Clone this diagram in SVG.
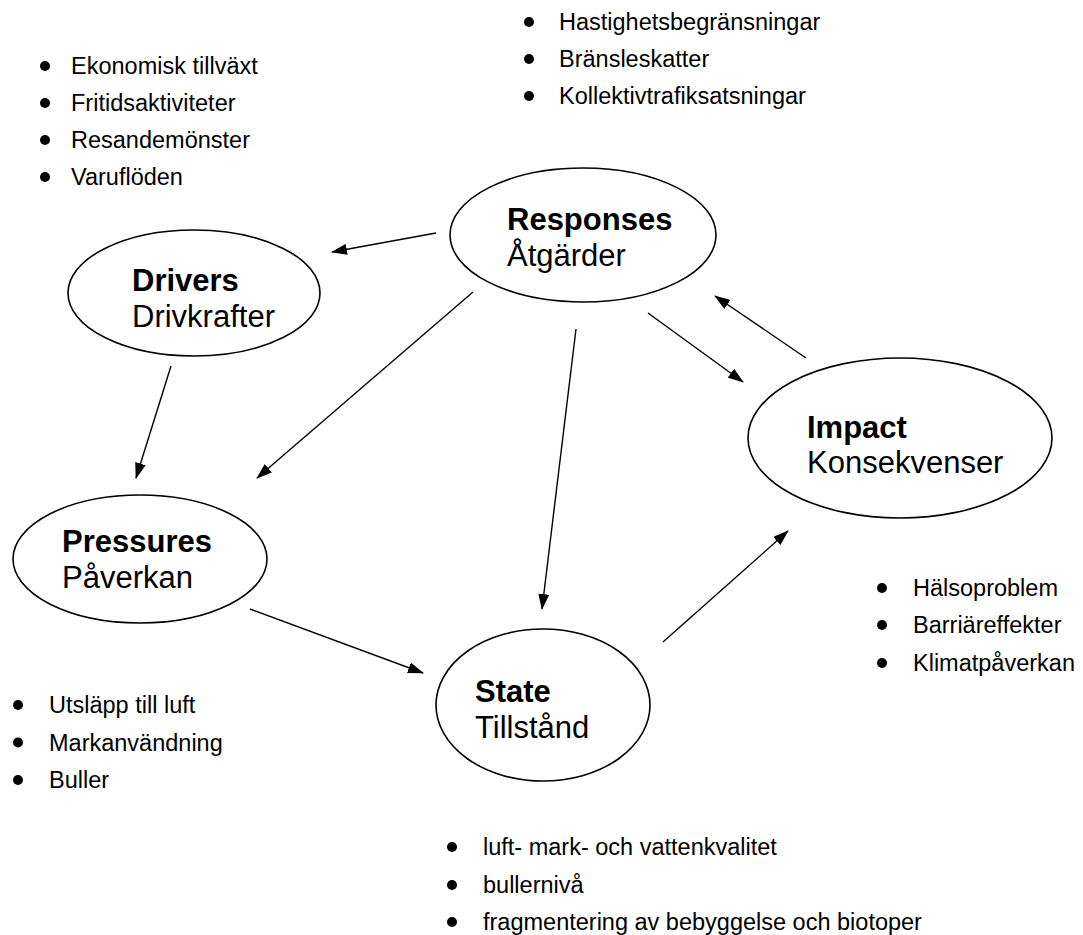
<svg xmlns="http://www.w3.org/2000/svg" width="1083" height="935" viewBox="0 0 1083 935">
<style>
.node ellipse{fill:#fff;stroke:#000;stroke-width:1.6}
.lbl{font-family:"Liberation Sans",Arial,sans-serif;font-size:31px;fill:#000}
.b{font-weight:bold}
.li{font-family:"Liberation Sans",Arial,sans-serif;font-size:23.5px;fill:#000}
.dot{fill:#000}
#connectors line{stroke:#000;stroke-width:1.4;marker-end:url(#ah)}
</style>
<defs>
<marker id="ah" markerUnits="userSpaceOnUse" markerWidth="16" markerHeight="11" viewBox="0 0 16 11" refX="15" refY="5.5" orient="auto">
<path d="M0,0 L16,5.5 L0,11 z" fill="#000"/>
</marker>
</defs>
<rect width="1083" height="935" fill="#fff"/>
<g id="connectors">
<line x1="436" y1="233" x2="332" y2="252"/>
<line x1="171" y1="366" x2="136" y2="478"/>
<line x1="473" y1="292" x2="257" y2="478"/>
<line x1="576" y1="329" x2="542" y2="609"/>
<line x1="648" y1="313" x2="743" y2="382"/>
<line x1="806" y1="358" x2="715" y2="296"/>
<line x1="250" y1="609" x2="423" y2="673"/>
<line x1="663" y1="642" x2="788" y2="531"/>
</g>
<g id="responses" class="node">
<ellipse cx="583" cy="235" rx="133" ry="67"/>
<text class="lbl b" x="507" y="230">Responses</text>
<text class="lbl" x="507" y="266">Åtgärder</text>
</g>
<g id="drivers" class="node">
<ellipse cx="194" cy="293" rx="126" ry="63"/>
<text class="lbl b" x="132" y="291">Drivers</text>
<text class="lbl" x="132" y="327">Drivkrafter</text>
</g>
<g id="pressures" class="node">
<ellipse cx="140" cy="559" rx="127" ry="64"/>
<text class="lbl b" x="62" y="552">Pressures</text>
<text class="lbl" x="62" y="588">Påverkan</text>
</g>
<g id="state" class="node">
<ellipse cx="543" cy="705" rx="107" ry="76"/>
<text class="lbl b" x="475" y="702">State</text>
<text class="lbl" x="475" y="738">Tillstånd</text>
</g>
<g id="impact" class="node">
<ellipse cx="900" cy="438" rx="152" ry="80"/>
<text class="lbl b" x="807" y="438">Impact</text>
<text class="lbl" x="807" y="473">Konsekvenser</text>
</g>
<g id="list-drivers">
<circle class="dot" cx="45" cy="66" r="5"/><text class="li" x="71" y="74">Ekonomisk tillväxt</text>
<circle class="dot" cx="45" cy="103" r="5"/><text class="li" x="71" y="111">Fritidsaktiviteter</text>
<circle class="dot" cx="45" cy="140" r="5"/><text class="li" x="71" y="148">Resandemönster</text>
<circle class="dot" cx="45" cy="177" r="5"/><text class="li" x="71" y="185">Varuflöden</text>
</g>
<g id="list-responses">
<circle class="dot" cx="529" cy="22" r="5"/><text class="li" x="559" y="30">Hastighetsbegränsningar</text>
<circle class="dot" cx="529" cy="59" r="5"/><text class="li" x="559" y="67">Bränsleskatter</text>
<circle class="dot" cx="529" cy="96" r="5"/><text class="li" x="559" y="104">Kollektivtrafiksatsningar</text>
</g>
<g id="list-pressures">
<circle class="dot" cx="18" cy="705" r="5"/><text class="li" x="49" y="713">Utsläpp till luft</text>
<circle class="dot" cx="18" cy="742.5" r="5"/><text class="li" x="49" y="750.5">Markanvändning</text>
<circle class="dot" cx="18" cy="780" r="5"/><text class="li" x="49" y="788">Buller</text>
</g>
<g id="list-impact">
<circle class="dot" cx="882" cy="588" r="5"/><text class="li" x="913" y="596">Hälsoproblem</text>
<circle class="dot" cx="882" cy="625" r="5"/><text class="li" x="913" y="633">Barriäreffekter</text>
<circle class="dot" cx="882" cy="663" r="5"/><text class="li" x="913" y="671">Klimatpåverkan</text>
</g>
<g id="list-state">
<circle class="dot" cx="452" cy="847" r="5"/><text class="li" x="483" y="855">luft- mark- och vattenkvalitet</text>
<circle class="dot" cx="452" cy="885" r="5"/><text class="li" x="483" y="893">bullernivå</text>
<circle class="dot" cx="452" cy="922" r="5"/><text class="li" x="483" y="930">fragmentering av bebyggelse och biotoper</text>
</g>
</svg>
